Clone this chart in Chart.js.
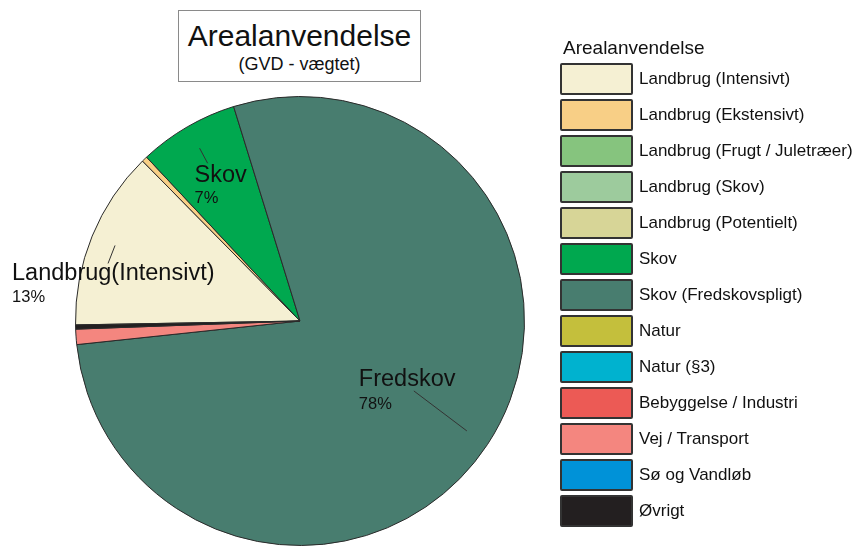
<!DOCTYPE html>
<html lang="da">
<head>
<meta charset="utf-8">
<title>Arealanvendelse</title>
<script src="https://cdn.jsdelivr.net/npm/chart.js@4.4.1/dist/chart.umd.min.js"></script>
<style>
  html, body { margin: 0; padding: 0; background: #fff; }
  body { width: 863px; height: 547px; position: relative; overflow: hidden; font-family: "Liberation Sans", Arial, sans-serif; color: #111; }
  #wrap { position: absolute; left: 0; top: 0; width: 863px; height: 547px; }
  .title-box { position: absolute; left: 178px; top: 10px; width: 243px; height: 72px; box-sizing: border-box; border: 1px solid #8a8a8a; text-align: center; background: #fff; }
  .title-box h1 { margin: 0; padding-top: 10px; font-weight: normal; font-size: 30px; line-height: 30px; }
  .title-box p { margin: 3px 0 0; font-size: 18px; line-height: 20px; }
  #legend { position: absolute; left: 560px; top: 37px; }
  #legend .lg-title { font-size: 19px; line-height: 22px; height: 26px; padding-left: 3px; }
  #legend .item { display: flex; align-items: center; height: 32px; margin-bottom: 4px; }
  #legend .box { width: 73px; height: 32px; box-sizing: border-box; border: 2px solid #333; border-radius: 2px; }
  #legend .txt { margin-left: 6px; font-size: 17px; }
</style>
</head>
<body>
<div id="wrap"><canvas id="pie"></canvas></div>
<div class="title-box">
  <h1>Arealanvendelse</h1>
  <p>(GVD - vægtet)</p>
</div>
<div id="legend"><div class="lg-title">Arealanvendelse</div></div>

<script>
// kategorier (samme rækkefølge som i signaturforklaringen)
const CATEGORIES = [
  'Landbrug (Intensivt)', 'Landbrug (Ekstensivt)', 'Landbrug (Frugt / Juletræer)',
  'Landbrug (Skov)', 'Landbrug (Potentielt)', 'Skov', 'Skov (Fredskovspligt)',
  'Natur', 'Natur (§3)', 'Bebyggelse / Industri', 'Vej / Transport',
  'Sø og Vandløb', 'Øvrigt',
];
// andel i procent
const VALUES = [12.9, 0.4, 0, 0, 0, 7.2, 78.1, 0, 0, 0, 1.1, 0, 0.3];
const COLORS = [
  '#f5f0d3', '#f8cf86', '#86c47e', '#9dcb9d', '#d7d597', '#00a84f', '#487d6f',
  '#c4bf3c', '#00b2cf', '#ec5a55', '#f4867f', '#0092d8', '#231f20',
];
// tekst på selve kagen
const SLICE_LABELS = ['Landbrug(Intensivt)', '', '', '', '', 'Skov', 'Fredskov', '', '', '', '', '', ''];

// signaturforklaring
const legend = document.getElementById('legend');
CATEGORIES.forEach((name, i) => {
  const el = document.createElement('div');
  el.className = 'item';
  el.innerHTML = `<div class="box" style="background:${COLORS[i]}"></div><div class="txt">${name}</div>`;
  legend.appendChild(el);
});

// placering af etiketter ift. ledelinjens yderpunkt
const PLACE = {
  0: { lead: [-7, 18], tx: -103, ty: 35, py: 57 },
  5: { lead: [8, 15], tx: -5, ty: 34, py: 55 },
  6: { lead: [-53, -40], tx: -108, ty: -45, py: -22 },
};

const sliceLabels = {
  id: 'sliceLabels',
  afterDatasetsDraw(chart) {
    const { ctx } = chart;
    const meta = chart.getDatasetMeta(0);
    const total = VALUES.reduce((a, b) => a + b, 0);
    ctx.save();
    SLICE_LABELS.forEach((txt, i) => {
      if (!txt) return;
      const arc = meta.data[i];
      const p = PLACE[i];
      const mid = (arc.startAngle + arc.endAngle) / 2;
      const r = arc.outerRadius * 0.89;
      const x = arc.x + Math.cos(mid) * r;
      const y = arc.y + Math.sin(mid) * r;
      ctx.strokeStyle = '#333';
      ctx.lineWidth = 1;
      ctx.beginPath();
      ctx.moveTo(x, y);
      ctx.lineTo(x + p.lead[0], y + p.lead[1]);
      ctx.stroke();
      ctx.fillStyle = '#111';
      ctx.textAlign = 'left';
      ctx.textBaseline = 'alphabetic';
      ctx.font = '23.5px "Liberation Sans", Arial, sans-serif';
      ctx.fillText(txt, x + p.tx, y + p.ty);
      ctx.font = '16.5px "Liberation Sans", Arial, sans-serif';
      ctx.fillText(Math.round(VALUES[i] / total * 100) + '%', x + p.tx, y + p.py);
    });
    ctx.restore();
  },
};

new Chart(document.getElementById('pie'), {
  type: 'pie',
  data: {
    labels: CATEGORIES,
    datasets: [{
      data: VALUES,
      backgroundColor: COLORS,
      borderColor: '#2a2a2a',
      borderWidth: 1,
    }],
  },
  options: {
    responsive: true, maintainAspectRatio: false, animation: false,
    rotation: 269,
    layout: { padding: { left: 75, top: 96, right: 338, bottom: 1 } },
    plugins: { legend: { display: false }, tooltip: { enabled: false } },
  },
  plugins: [sliceLabels],
});
</script>
</body>
</html>
